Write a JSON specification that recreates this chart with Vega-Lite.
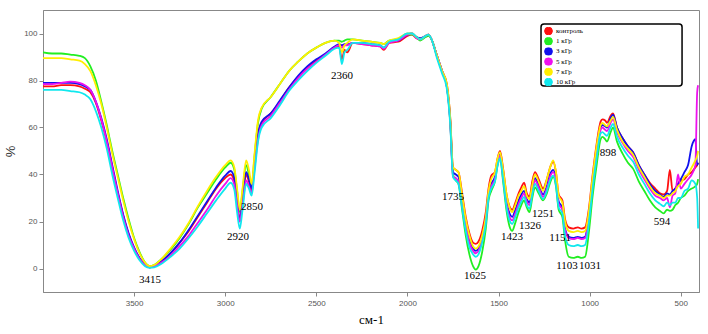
{
  "$schema": "https://vega.github.io/schema/vega-lite/v6.json",
  "width": 656,
  "height": 282,
  "autosize": {"type": "none"},
  "padding": {"left": 43, "top": 10, "right": 9, "bottom": 42},
  "background": "white",
  "config": {
    "view": {"stroke": "#888", "strokeWidth": 1},
    "axis": {"grid": false, "domainColor": "#888", "tickColor": "#888", "tickSize": 4, "labelFont": "Liberation Sans", "labelFontSize": 8, "labelColor": "#555", "titleFontWeight": "normal"},
    "legend": {"symbolStrokeColor": "#000", "symbolStrokeWidth": 1}
  },
  "layer": [
    {
      "data": {"values": [
{"w":4000,"s":"контроль","v":77.5},{"w":4000,"s":"1 кГр","v":92},{"w":4000,"s":"3 кГр","v":79},{"w":4000,"s":"5 кГр","v":78.5},{"w":4000,"s":"7 кГр","v":89.5},{"w":4000,"s":"10 кГр","v":76},
{"w":3950,"s":"контроль","v":77.5},{"w":3950,"s":"1 кГр","v":91.5},{"w":3950,"s":"3 кГр","v":79},{"w":3950,"s":"5 кГр","v":78.5},{"w":3950,"s":"7 кГр","v":89.5},{"w":3950,"s":"10 кГр","v":76},
{"w":3900,"s":"контроль","v":78},{"w":3900,"s":"1 кГр","v":91.5},{"w":3900,"s":"3 кГр","v":79},{"w":3900,"s":"5 кГр","v":79},{"w":3900,"s":"7 кГр","v":89.5},{"w":3900,"s":"10 кГр","v":76},
{"w":3850,"s":"контроль","v":78},{"w":3850,"s":"1 кГр","v":91},{"w":3850,"s":"3 кГр","v":79},{"w":3850,"s":"5 кГр","v":79.5},{"w":3850,"s":"7 кГр","v":89},{"w":3850,"s":"10 кГр","v":75.5},
{"w":3800,"s":"контроль","v":77.5},{"w":3800,"s":"1 кГр","v":90.5},{"w":3800,"s":"3 кГр","v":78.5},{"w":3800,"s":"5 кГр","v":79},{"w":3800,"s":"7 кГр","v":88.5},{"w":3800,"s":"10 кГр","v":75},
{"w":3770,"s":"контроль","v":76.5},{"w":3770,"s":"1 кГр","v":89.5},{"w":3770,"s":"3 кГр","v":77.5},{"w":3770,"s":"5 кГр","v":78},{"w":3770,"s":"7 кГр","v":87},{"w":3770,"s":"10 кГр","v":74},
{"w":3740,"s":"контроль","v":75},{"w":3740,"s":"1 кГр","v":86},{"w":3740,"s":"3 кГр","v":76},{"w":3740,"s":"5 кГр","v":76},{"w":3740,"s":"7 кГр","v":84},{"w":3740,"s":"10 кГр","v":72},
{"w":3710,"s":"контроль","v":70.5},{"w":3710,"s":"1 кГр","v":80},{"w":3710,"s":"3 кГр","v":71},{"w":3710,"s":"5 кГр","v":71},{"w":3710,"s":"7 кГр","v":78},{"w":3710,"s":"10 кГр","v":67},
{"w":3680,"s":"контроль","v":63},{"w":3680,"s":"1 кГр","v":71},{"w":3680,"s":"3 кГр","v":64},{"w":3680,"s":"5 кГр","v":63.5},{"w":3680,"s":"7 кГр","v":70},{"w":3680,"s":"10 кГр","v":60},
{"w":3650,"s":"контроль","v":54},{"w":3650,"s":"1 кГр","v":61},{"w":3650,"s":"3 кГр","v":55},{"w":3650,"s":"5 кГр","v":54},{"w":3650,"s":"7 кГр","v":60},{"w":3650,"s":"10 кГр","v":51},
{"w":3620,"s":"контроль","v":43},{"w":3620,"s":"1 кГр","v":50},{"w":3620,"s":"3 кГр","v":44},{"w":3620,"s":"5 кГр","v":43},{"w":3620,"s":"7 кГр","v":49},{"w":3620,"s":"10 кГр","v":40},
{"w":3590,"s":"контроль","v":32},{"w":3590,"s":"1 кГр","v":40},{"w":3590,"s":"3 кГр","v":33},{"w":3590,"s":"5 кГр","v":32},{"w":3590,"s":"7 кГр","v":39},{"w":3590,"s":"10 кГр","v":30},
{"w":3560,"s":"контроль","v":22.5},{"w":3560,"s":"1 кГр","v":30},{"w":3560,"s":"3 кГр","v":23},{"w":3560,"s":"5 кГр","v":22},{"w":3560,"s":"7 кГр","v":29},{"w":3560,"s":"10 кГр","v":20.5},
{"w":3530,"s":"контроль","v":14.5},{"w":3530,"s":"1 кГр","v":21},{"w":3530,"s":"3 кГр","v":15},{"w":3530,"s":"5 кГр","v":14},{"w":3530,"s":"7 кГр","v":20},{"w":3530,"s":"10 кГр","v":13},
{"w":3500,"s":"контроль","v":8.5},{"w":3500,"s":"1 кГр","v":13},{"w":3500,"s":"3 кГр","v":9},{"w":3500,"s":"5 кГр","v":8.5},{"w":3500,"s":"7 кГр","v":12.5},{"w":3500,"s":"10 кГр","v":7.5},
{"w":3470,"s":"контроль","v":4},{"w":3470,"s":"1 кГр","v":7},{"w":3470,"s":"3 кГр","v":4.5},{"w":3470,"s":"5 кГр","v":4},{"w":3470,"s":"7 кГр","v":6.5},{"w":3470,"s":"10 кГр","v":3.5},
{"w":3440,"s":"контроль","v":1.5},{"w":3440,"s":"1 кГр","v":2.5},{"w":3440,"s":"3 кГр","v":1.5},{"w":3440,"s":"5 кГр","v":1.5},{"w":3440,"s":"7 кГр","v":2.5},{"w":3440,"s":"10 кГр","v":1},
{"w":3415,"s":"контроль","v":0.5},{"w":3415,"s":"1 кГр","v":1},{"w":3415,"s":"3 кГр","v":0.5},{"w":3415,"s":"5 кГр","v":0.5},{"w":3415,"s":"7 кГр","v":1},{"w":3415,"s":"10 кГр","v":0.3},
{"w":3390,"s":"контроль","v":1},{"w":3390,"s":"1 кГр","v":1.5},{"w":3390,"s":"3 кГр","v":1},{"w":3390,"s":"5 кГр","v":1},{"w":3390,"s":"7 кГр","v":1.5},{"w":3390,"s":"10 кГр","v":0.5},
{"w":3350,"s":"контроль","v":3},{"w":3350,"s":"1 кГр","v":4},{"w":3350,"s":"3 кГр","v":3},{"w":3350,"s":"5 кГр","v":2.5},{"w":3350,"s":"7 кГр","v":4},{"w":3350,"s":"10 кГр","v":2},
{"w":3300,"s":"контроль","v":6.5},{"w":3300,"s":"1 кГр","v":8},{"w":3300,"s":"3 кГр","v":6.5},{"w":3300,"s":"5 кГр","v":5.5},{"w":3300,"s":"7 кГр","v":8.5},{"w":3300,"s":"10 кГр","v":5},
{"w":3250,"s":"контроль","v":11},{"w":3250,"s":"1 кГр","v":13},{"w":3250,"s":"3 кГр","v":11},{"w":3250,"s":"5 кГр","v":9.5},{"w":3250,"s":"7 кГр","v":13.5},{"w":3250,"s":"10 кГр","v":8.5},
{"w":3200,"s":"контроль","v":16},{"w":3200,"s":"1 кГр","v":19},{"w":3200,"s":"3 кГр","v":16.5},{"w":3200,"s":"5 кГр","v":14},{"w":3200,"s":"7 кГр","v":19.5},{"w":3200,"s":"10 кГр","v":13},
{"w":3150,"s":"контроль","v":22},{"w":3150,"s":"1 кГр","v":26},{"w":3150,"s":"3 кГр","v":22.5},{"w":3150,"s":"5 кГр","v":19.5},{"w":3150,"s":"7 кГр","v":26.5},{"w":3150,"s":"10 кГр","v":18},
{"w":3100,"s":"контроль","v":28},{"w":3100,"s":"1 кГр","v":32},{"w":3100,"s":"3 кГр","v":28.5},{"w":3100,"s":"5 кГр","v":25},{"w":3100,"s":"7 кГр","v":33},{"w":3100,"s":"10 кГр","v":23.5},
{"w":3050,"s":"контроль","v":34},{"w":3050,"s":"1 кГр","v":38},{"w":3050,"s":"3 кГр","v":34.5},{"w":3050,"s":"5 кГр","v":31},{"w":3050,"s":"7 кГр","v":39},{"w":3050,"s":"10 кГр","v":29},
{"w":3000,"s":"контроль","v":38.5},{"w":3000,"s":"1 кГр","v":43},{"w":3000,"s":"3 кГр","v":39.5},{"w":3000,"s":"5 кГр","v":36},{"w":3000,"s":"7 кГр","v":44},{"w":3000,"s":"10 кГр","v":34},
{"w":2970,"s":"контроль","v":40},{"w":2970,"s":"1 кГр","v":45},{"w":2970,"s":"3 кГр","v":41.5},{"w":2970,"s":"5 кГр","v":38.5},{"w":2970,"s":"7 кГр","v":46},{"w":2970,"s":"10 кГр","v":36.5},
{"w":2950,"s":"контроль","v":37},{"w":2950,"s":"1 кГр","v":42},{"w":2950,"s":"3 кГр","v":38.5},{"w":2950,"s":"5 кГр","v":35.5},{"w":2950,"s":"7 кГр","v":43},{"w":2950,"s":"10 кГр","v":33.5},
{"w":2935,"s":"контроль","v":28},{"w":2935,"s":"1 кГр","v":33},{"w":2935,"s":"3 кГр","v":29},{"w":2935,"s":"5 кГр","v":27},{"w":2935,"s":"7 кГр","v":34},{"w":2935,"s":"10 кГр","v":24},
{"w":2920,"s":"контроль","v":21},{"w":2920,"s":"1 кГр","v":24},{"w":2920,"s":"3 кГр","v":20},{"w":2920,"s":"5 кГр","v":20},{"w":2920,"s":"7 кГр","v":25},{"w":2920,"s":"10 кГр","v":17},
{"w":2905,"s":"контроль","v":29},{"w":2905,"s":"1 кГр","v":33},{"w":2905,"s":"3 кГр","v":30},{"w":2905,"s":"5 кГр","v":27},{"w":2905,"s":"7 кГр","v":34},{"w":2905,"s":"10 кГр","v":25},
{"w":2885,"s":"контроль","v":40},{"w":2885,"s":"1 кГр","v":44},{"w":2885,"s":"3 кГр","v":41},{"w":2885,"s":"5 кГр","v":37.5},{"w":2885,"s":"7 кГр","v":46},{"w":2885,"s":"10 кГр","v":36},
{"w":2870,"s":"контроль","v":37},{"w":2870,"s":"1 кГр","v":40},{"w":2870,"s":"3 кГр","v":38},{"w":2870,"s":"5 кГр","v":35},{"w":2870,"s":"7 кГр","v":42},{"w":2870,"s":"10 кГр","v":34},
{"w":2855,"s":"контроль","v":33},{"w":2855,"s":"1 кГр","v":35},{"w":2855,"s":"3 кГр","v":34},{"w":2855,"s":"5 кГр","v":32},{"w":2855,"s":"7 кГр","v":36},{"w":2855,"s":"10 кГр","v":31},
{"w":2840,"s":"контроль","v":44},{"w":2840,"s":"1 кГр","v":47},{"w":2840,"s":"3 кГр","v":44},{"w":2840,"s":"5 кГр","v":42},{"w":2840,"s":"7 кГр","v":48},{"w":2840,"s":"10 кГр","v":40},
{"w":2820,"s":"контроль","v":57},{"w":2820,"s":"1 кГр","v":62},{"w":2820,"s":"3 кГр","v":57},{"w":2820,"s":"5 кГр","v":55},{"w":2820,"s":"7 кГр","v":63},{"w":2820,"s":"10 кГр","v":54},
{"w":2800,"s":"контроль","v":62},{"w":2800,"s":"1 кГр","v":68},{"w":2800,"s":"3 кГр","v":62.5},{"w":2800,"s":"5 кГр","v":61},{"w":2800,"s":"7 кГр","v":68.5},{"w":2800,"s":"10 кГр","v":60},
{"w":2750,"s":"контроль","v":66},{"w":2750,"s":"1 кГр","v":73},{"w":2750,"s":"3 кГр","v":66},{"w":2750,"s":"5 кГр","v":65},{"w":2750,"s":"7 кГр","v":73},{"w":2750,"s":"10 кГр","v":64},
{"w":2700,"s":"контроль","v":71},{"w":2700,"s":"1 кГр","v":78.5},{"w":2700,"s":"3 кГр","v":71.5},{"w":2700,"s":"5 кГр","v":70.5},{"w":2700,"s":"7 кГр","v":78.5},{"w":2700,"s":"10 кГр","v":69.5},
{"w":2650,"s":"контроль","v":77},{"w":2650,"s":"1 кГр","v":84},{"w":2650,"s":"3 кГр","v":77},{"w":2650,"s":"5 кГр","v":76},{"w":2650,"s":"7 кГр","v":84},{"w":2650,"s":"10 кГр","v":75.5},
{"w":2600,"s":"контроль","v":81.5},{"w":2600,"s":"1 кГр","v":88},{"w":2600,"s":"3 кГр","v":82},{"w":2600,"s":"5 кГр","v":81},{"w":2600,"s":"7 кГр","v":88},{"w":2600,"s":"10 кГр","v":80},
{"w":2550,"s":"контроль","v":85.5},{"w":2550,"s":"1 кГр","v":91.5},{"w":2550,"s":"3 кГр","v":86},{"w":2550,"s":"5 кГр","v":85},{"w":2550,"s":"7 кГр","v":91.5},{"w":2550,"s":"10 кГр","v":84},
{"w":2500,"s":"контроль","v":88.5},{"w":2500,"s":"1 кГр","v":94},{"w":2500,"s":"3 кГр","v":89},{"w":2500,"s":"5 кГр","v":88},{"w":2500,"s":"7 кГр","v":94},{"w":2500,"s":"10 кГр","v":87.5},
{"w":2450,"s":"контроль","v":91},{"w":2450,"s":"1 кГр","v":96},{"w":2450,"s":"3 кГр","v":91.5},{"w":2450,"s":"5 кГр","v":91},{"w":2450,"s":"7 кГр","v":96},{"w":2450,"s":"10 кГр","v":90.5},
{"w":2400,"s":"контроль","v":94},{"w":2400,"s":"1 кГр","v":97},{"w":2400,"s":"3 кГр","v":94.5},{"w":2400,"s":"5 кГр","v":94},{"w":2400,"s":"7 кГр","v":97},{"w":2400,"s":"10 кГр","v":93.5},
{"w":2375,"s":"контроль","v":94.5},{"w":2375,"s":"1 кГр","v":97},{"w":2375,"s":"3 кГр","v":95.5},{"w":2375,"s":"5 кГр","v":95},{"w":2375,"s":"7 кГр","v":96},{"w":2375,"s":"10 кГр","v":94},
{"w":2360,"s":"контроль","v":89},{"w":2360,"s":"1 кГр","v":96.5},{"w":2360,"s":"3 кГр","v":95},{"w":2360,"s":"5 кГр","v":94},{"w":2360,"s":"7 кГр","v":92},{"w":2360,"s":"10 кГр","v":87},
{"w":2345,"s":"контроль","v":93},{"w":2345,"s":"1 кГр","v":97},{"w":2345,"s":"3 кГр","v":95.5},{"w":2345,"s":"5 кГр","v":95},{"w":2345,"s":"7 кГр","v":95},{"w":2345,"s":"10 кГр","v":92},
{"w":2330,"s":"контроль","v":92},{"w":2330,"s":"1 кГр","v":97.5},{"w":2330,"s":"3 кГр","v":95.5},{"w":2330,"s":"5 кГр","v":95},{"w":2330,"s":"7 кГр","v":96},{"w":2330,"s":"10 кГр","v":93},
{"w":2300,"s":"контроль","v":96},{"w":2300,"s":"1 кГр","v":97.5},{"w":2300,"s":"3 кГр","v":96},{"w":2300,"s":"5 кГр","v":96},{"w":2300,"s":"7 кГр","v":97.5},{"w":2300,"s":"10 кГр","v":96},
{"w":2250,"s":"контроль","v":95.5},{"w":2250,"s":"1 кГр","v":97},{"w":2250,"s":"3 кГр","v":96},{"w":2250,"s":"5 кГр","v":95.5},{"w":2250,"s":"7 кГр","v":97},{"w":2250,"s":"10 кГр","v":96},
{"w":2200,"s":"контроль","v":95},{"w":2200,"s":"1 кГр","v":96.5},{"w":2200,"s":"3 кГр","v":95.5},{"w":2200,"s":"5 кГр","v":95},{"w":2200,"s":"7 кГр","v":96.5},{"w":2200,"s":"10 кГр","v":95.5},
{"w":2150,"s":"контроль","v":94.5},{"w":2150,"s":"1 кГр","v":96},{"w":2150,"s":"3 кГр","v":95},{"w":2150,"s":"5 кГр","v":94.5},{"w":2150,"s":"7 кГр","v":96},{"w":2150,"s":"10 кГр","v":95},
{"w":2130,"s":"контроль","v":93},{"w":2130,"s":"1 кГр","v":95.5},{"w":2130,"s":"3 кГр","v":94},{"w":2130,"s":"5 кГр","v":93.5},{"w":2130,"s":"7 кГр","v":95.5},{"w":2130,"s":"10 кГр","v":94},
{"w":2100,"s":"контроль","v":96},{"w":2100,"s":"1 кГр","v":97},{"w":2100,"s":"3 кГр","v":96.5},{"w":2100,"s":"5 кГр","v":96},{"w":2100,"s":"7 кГр","v":97},{"w":2100,"s":"10 кГр","v":96.5},
{"w":2050,"s":"контроль","v":96.5},{"w":2050,"s":"1 кГр","v":97.5},{"w":2050,"s":"3 кГр","v":97},{"w":2050,"s":"5 кГр","v":97},{"w":2050,"s":"7 кГр","v":98},{"w":2050,"s":"10 кГр","v":97.5},
{"w":2000,"s":"контроль","v":99},{"w":2000,"s":"1 кГр","v":99.5},{"w":2000,"s":"3 кГр","v":99.5},{"w":2000,"s":"5 кГр","v":99.5},{"w":2000,"s":"7 кГр","v":100},{"w":2000,"s":"10 кГр","v":100},
{"w":1975,"s":"контроль","v":99.5},{"w":1975,"s":"1 кГр","v":99.5},{"w":1975,"s":"3 кГр","v":100},{"w":1975,"s":"5 кГр","v":100},{"w":1975,"s":"7 кГр","v":100},{"w":1975,"s":"10 кГр","v":100},
{"w":1950,"s":"контроль","v":98},{"w":1950,"s":"1 кГр","v":98.5},{"w":1950,"s":"3 кГр","v":98.5},{"w":1950,"s":"5 кГр","v":98},{"w":1950,"s":"7 кГр","v":98.5},{"w":1950,"s":"10 кГр","v":98.5},
{"w":1930,"s":"контроль","v":97.5},{"w":1930,"s":"1 кГр","v":97},{"w":1930,"s":"3 кГр","v":98},{"w":1930,"s":"5 кГр","v":97.5},{"w":1930,"s":"7 кГр","v":97.5},{"w":1930,"s":"10 кГр","v":97.5},
{"w":1900,"s":"контроль","v":99},{"w":1900,"s":"1 кГр","v":98.5},{"w":1900,"s":"3 кГр","v":99},{"w":1900,"s":"5 кГр","v":99},{"w":1900,"s":"7 кГр","v":99},{"w":1900,"s":"10 кГр","v":99},
{"w":1885,"s":"контроль","v":99.5},{"w":1885,"s":"1 кГр","v":99},{"w":1885,"s":"3 кГр","v":99.5},{"w":1885,"s":"5 кГр","v":99.5},{"w":1885,"s":"7 кГр","v":99.5},{"w":1885,"s":"10 кГр","v":99.5},
{"w":1865,"s":"контроль","v":97},{"w":1865,"s":"1 кГр","v":97},{"w":1865,"s":"3 кГр","v":97},{"w":1865,"s":"5 кГр","v":97},{"w":1865,"s":"7 кГр","v":97},{"w":1865,"s":"10 кГр","v":97},
{"w":1840,"s":"контроль","v":91},{"w":1840,"s":"1 кГр","v":91},{"w":1840,"s":"3 кГр","v":91},{"w":1840,"s":"5 кГр","v":91},{"w":1840,"s":"7 кГр","v":91},{"w":1840,"s":"10 кГр","v":90},
{"w":1810,"s":"контроль","v":84},{"w":1810,"s":"1 кГр","v":84},{"w":1810,"s":"3 кГр","v":84},{"w":1810,"s":"5 кГр","v":84},{"w":1810,"s":"7 кГр","v":84},{"w":1810,"s":"10 кГр","v":83},
{"w":1785,"s":"контроль","v":79},{"w":1785,"s":"1 кГр","v":78},{"w":1785,"s":"3 кГр","v":78},{"w":1785,"s":"5 кГр","v":78},{"w":1785,"s":"7 кГр","v":79},{"w":1785,"s":"10 кГр","v":77},
{"w":1765,"s":"контроль","v":64},{"w":1765,"s":"1 кГр","v":62},{"w":1765,"s":"3 кГр","v":63},{"w":1765,"s":"5 кГр","v":62},{"w":1765,"s":"7 кГр","v":64},{"w":1765,"s":"10 кГр","v":61},
{"w":1750,"s":"контроль","v":43},{"w":1750,"s":"1 кГр","v":40},{"w":1750,"s":"3 кГр","v":41},{"w":1750,"s":"5 кГр","v":39},{"w":1750,"s":"7 кГр","v":43},{"w":1750,"s":"10 кГр","v":39},
{"w":1735,"s":"контроль","v":42},{"w":1735,"s":"1 кГр","v":37.5},{"w":1735,"s":"3 кГр","v":40},{"w":1735,"s":"5 кГр","v":38.5},{"w":1735,"s":"7 кГр","v":42},{"w":1735,"s":"10 кГр","v":37.5},
{"w":1720,"s":"контроль","v":41},{"w":1720,"s":"1 кГр","v":36},{"w":1720,"s":"3 кГр","v":39},{"w":1720,"s":"5 кГр","v":37},{"w":1720,"s":"7 кГр","v":41},{"w":1720,"s":"10 кГр","v":36},
{"w":1700,"s":"контроль","v":32},{"w":1700,"s":"1 кГр","v":25},{"w":1700,"s":"3 кГр","v":29},{"w":1700,"s":"5 кГр","v":27},{"w":1700,"s":"7 кГр","v":31},{"w":1700,"s":"10 кГр","v":26},
{"w":1680,"s":"контроль","v":22},{"w":1680,"s":"1 кГр","v":14},{"w":1680,"s":"3 кГр","v":19},{"w":1680,"s":"5 кГр","v":18},{"w":1680,"s":"7 кГр","v":21},{"w":1680,"s":"10 кГр","v":16},
{"w":1660,"s":"контроль","v":15},{"w":1660,"s":"1 кГр","v":6},{"w":1660,"s":"3 кГр","v":12},{"w":1660,"s":"5 кГр","v":11},{"w":1660,"s":"7 кГр","v":14},{"w":1660,"s":"10 кГр","v":9},
{"w":1640,"s":"контроль","v":11},{"w":1640,"s":"1 кГр","v":1},{"w":1640,"s":"3 кГр","v":8.5},{"w":1640,"s":"5 кГр","v":7.5},{"w":1640,"s":"7 кГр","v":9.5},{"w":1640,"s":"10 кГр","v":6},
{"w":1625,"s":"контроль","v":10.5},{"w":1625,"s":"1 кГр","v":-0.5},{"w":1625,"s":"3 кГр","v":7.5},{"w":1625,"s":"5 кГр","v":6.5},{"w":1625,"s":"7 кГр","v":8.5},{"w":1625,"s":"10 кГр","v":5},
{"w":1610,"s":"контроль","v":11.5},{"w":1610,"s":"1 кГр","v":1},{"w":1610,"s":"3 кГр","v":8.5},{"w":1610,"s":"5 кГр","v":7.5},{"w":1610,"s":"7 кГр","v":9.5},{"w":1610,"s":"10 кГр","v":6},
{"w":1590,"s":"контроль","v":16},{"w":1590,"s":"1 кГр","v":7},{"w":1590,"s":"3 кГр","v":13},{"w":1590,"s":"5 кГр","v":12},{"w":1590,"s":"7 кГр","v":14},{"w":1590,"s":"10 кГр","v":11},
{"w":1570,"s":"контроль","v":24},{"w":1570,"s":"1 кГр","v":17},{"w":1570,"s":"3 кГр","v":21},{"w":1570,"s":"5 кГр","v":20},{"w":1570,"s":"7 кГр","v":22},{"w":1570,"s":"10 кГр","v":19},
{"w":1555,"s":"контроль","v":34},{"w":1555,"s":"1 кГр","v":29},{"w":1555,"s":"3 кГр","v":32},{"w":1555,"s":"5 кГр","v":31},{"w":1555,"s":"7 кГр","v":33},{"w":1555,"s":"10 кГр","v":30},
{"w":1540,"s":"контроль","v":39.5},{"w":1540,"s":"1 кГр","v":33},{"w":1540,"s":"3 кГр","v":36},{"w":1540,"s":"5 кГр","v":35},{"w":1540,"s":"7 кГр","v":38},{"w":1540,"s":"10 кГр","v":34},
{"w":1520,"s":"контроль","v":41},{"w":1520,"s":"1 кГр","v":37},{"w":1520,"s":"3 кГр","v":39},{"w":1520,"s":"5 кГр","v":38},{"w":1520,"s":"7 кГр","v":41},{"w":1520,"s":"10 кГр","v":37},
{"w":1505,"s":"контроль","v":47},{"w":1505,"s":"1 кГр","v":44},{"w":1505,"s":"3 кГр","v":46},{"w":1505,"s":"5 кГр","v":45},{"w":1505,"s":"7 кГр","v":47},{"w":1505,"s":"10 кГр","v":44},
{"w":1492,"s":"контроль","v":50},{"w":1492,"s":"1 кГр","v":47},{"w":1492,"s":"3 кГр","v":49},{"w":1492,"s":"5 кГр","v":48},{"w":1492,"s":"7 кГр","v":49.5},{"w":1492,"s":"10 кГр","v":47},
{"w":1475,"s":"контроль","v":42.5},{"w":1475,"s":"1 кГр","v":37},{"w":1475,"s":"3 кГр","v":40},{"w":1475,"s":"5 кГр","v":39},{"w":1475,"s":"7 кГр","v":42},{"w":1475,"s":"10 кГр","v":38},
{"w":1455,"s":"контроль","v":31},{"w":1455,"s":"1 кГр","v":24},{"w":1455,"s":"3 кГр","v":28},{"w":1455,"s":"5 кГр","v":27},{"w":1455,"s":"7 кГр","v":31},{"w":1455,"s":"10 кГр","v":25.5},
{"w":1440,"s":"контроль","v":26.5},{"w":1440,"s":"1 кГр","v":18},{"w":1440,"s":"3 кГр","v":23.5},{"w":1440,"s":"5 кГр","v":22},{"w":1440,"s":"7 кГр","v":26},{"w":1440,"s":"10 кГр","v":20.5},
{"w":1425,"s":"контроль","v":25},{"w":1425,"s":"1 кГр","v":16},{"w":1425,"s":"3 кГр","v":22},{"w":1425,"s":"5 кГр","v":20.5},{"w":1425,"s":"7 кГр","v":24},{"w":1425,"s":"10 кГр","v":19},
{"w":1410,"s":"контроль","v":27.5},{"w":1410,"s":"1 кГр","v":19},{"w":1410,"s":"3 кГр","v":24.5},{"w":1410,"s":"5 кГр","v":23},{"w":1410,"s":"7 кГр","v":26.5},{"w":1410,"s":"10 кГр","v":21.5},
{"w":1390,"s":"контроль","v":32},{"w":1390,"s":"1 кГр","v":24},{"w":1390,"s":"3 кГр","v":29},{"w":1390,"s":"5 кГр","v":27.5},{"w":1390,"s":"7 кГр","v":31},{"w":1390,"s":"10 кГр","v":26},
{"w":1375,"s":"контроль","v":34.5},{"w":1375,"s":"1 кГр","v":27},{"w":1375,"s":"3 кГр","v":31.5},{"w":1375,"s":"5 кГр","v":30},{"w":1375,"s":"7 кГр","v":33},{"w":1375,"s":"10 кГр","v":28.5},
{"w":1360,"s":"контроль","v":36.5},{"w":1360,"s":"1 кГр","v":29},{"w":1360,"s":"3 кГр","v":33},{"w":1360,"s":"5 кГр","v":32},{"w":1360,"s":"7 кГр","v":35},{"w":1360,"s":"10 кГр","v":30.5},
{"w":1345,"s":"контроль","v":32},{"w":1345,"s":"1 кГр","v":26},{"w":1345,"s":"3 кГр","v":29.5},{"w":1345,"s":"5 кГр","v":28.5},{"w":1345,"s":"7 кГр","v":31},{"w":1345,"s":"10 кГр","v":27},
{"w":1330,"s":"контроль","v":30.5},{"w":1330,"s":"1 кГр","v":24},{"w":1330,"s":"3 кГр","v":28},{"w":1330,"s":"5 кГр","v":27},{"w":1330,"s":"7 кГр","v":29.5},{"w":1330,"s":"10 кГр","v":25.5},
{"w":1315,"s":"контроль","v":37},{"w":1315,"s":"1 кГр","v":30},{"w":1315,"s":"3 кГр","v":34},{"w":1315,"s":"5 кГр","v":33},{"w":1315,"s":"7 кГр","v":35.5},{"w":1315,"s":"10 кГр","v":31.5},
{"w":1300,"s":"контроль","v":41},{"w":1300,"s":"1 кГр","v":34.5},{"w":1300,"s":"3 кГр","v":38.5},{"w":1300,"s":"5 кГр","v":37.5},{"w":1300,"s":"7 кГр","v":40},{"w":1300,"s":"10 кГр","v":36},
{"w":1280,"s":"контроль","v":38},{"w":1280,"s":"1 кГр","v":32},{"w":1280,"s":"3 кГр","v":35.5},{"w":1280,"s":"5 кГр","v":34.5},{"w":1280,"s":"7 кГр","v":37},{"w":1280,"s":"10 кГр","v":33},
{"w":1256,"s":"контроль","v":34},{"w":1256,"s":"1 кГр","v":29},{"w":1256,"s":"3 кГр","v":31.5},{"w":1256,"s":"5 кГр","v":30.5},{"w":1256,"s":"7 кГр","v":33},{"w":1256,"s":"10 кГр","v":29.5},
{"w":1235,"s":"контроль","v":38},{"w":1235,"s":"1 кГр","v":32},{"w":1235,"s":"3 кГр","v":35},{"w":1235,"s":"5 кГр","v":34},{"w":1235,"s":"7 кГр","v":38},{"w":1235,"s":"10 кГр","v":33},
{"w":1215,"s":"контроль","v":43.5},{"w":1215,"s":"1 кГр","v":37},{"w":1215,"s":"3 кГр","v":40.5},{"w":1215,"s":"5 кГр","v":39.5},{"w":1215,"s":"7 кГр","v":43.5},{"w":1215,"s":"10 кГр","v":38},
{"w":1200,"s":"контроль","v":45.5},{"w":1200,"s":"1 кГр","v":39},{"w":1200,"s":"3 кГр","v":42},{"w":1200,"s":"5 кГр","v":41},{"w":1200,"s":"7 кГр","v":46},{"w":1200,"s":"10 кГр","v":39.5},
{"w":1185,"s":"контроль","v":41},{"w":1185,"s":"1 кГр","v":35},{"w":1185,"s":"3 кГр","v":38},{"w":1185,"s":"5 кГр","v":37},{"w":1185,"s":"7 кГр","v":41},{"w":1185,"s":"10 кГр","v":35.5},
{"w":1170,"s":"контроль","v":31.5},{"w":1170,"s":"1 кГр","v":25},{"w":1170,"s":"3 кГр","v":28.5},{"w":1170,"s":"5 кГр","v":27.5},{"w":1170,"s":"7 кГр","v":31},{"w":1170,"s":"10 кГр","v":26},
{"w":1150,"s":"контроль","v":29},{"w":1150,"s":"1 кГр","v":22},{"w":1150,"s":"3 кГр","v":26},{"w":1150,"s":"5 кГр","v":25},{"w":1150,"s":"7 кГр","v":28},{"w":1150,"s":"10 кГр","v":23.5},
{"w":1135,"s":"контроль","v":21},{"w":1135,"s":"1 кГр","v":12},{"w":1135,"s":"3 кГр","v":17},{"w":1135,"s":"5 кГр","v":16.5},{"w":1135,"s":"7 кГр","v":20},{"w":1135,"s":"10 кГр","v":14},
{"w":1115,"s":"контроль","v":17.5},{"w":1115,"s":"1 кГр","v":5},{"w":1115,"s":"3 кГр","v":13.5},{"w":1115,"s":"5 кГр","v":13},{"w":1115,"s":"7 кГр","v":16},{"w":1115,"s":"10 кГр","v":10},
{"w":1090,"s":"контроль","v":17},{"w":1090,"s":"1 кГр","v":4.5},{"w":1090,"s":"3 кГр","v":13},{"w":1090,"s":"5 кГр","v":12.5},{"w":1090,"s":"7 кГр","v":15.5},{"w":1090,"s":"10 кГр","v":9.5},
{"w":1065,"s":"контроль","v":17.5},{"w":1065,"s":"1 кГр","v":5},{"w":1065,"s":"3 кГр","v":13.5},{"w":1065,"s":"5 кГр","v":13},{"w":1065,"s":"7 кГр","v":16},{"w":1065,"s":"10 кГр","v":10},
{"w":1045,"s":"контроль","v":17},{"w":1045,"s":"1 кГр","v":4.5},{"w":1045,"s":"3 кГр","v":13},{"w":1045,"s":"5 кГр","v":12.5},{"w":1045,"s":"7 кГр","v":15.5},{"w":1045,"s":"10 кГр","v":9.5},
{"w":1025,"s":"контроль","v":17.5},{"w":1025,"s":"1 кГр","v":5},{"w":1025,"s":"3 кГр","v":13.5},{"w":1025,"s":"5 кГр","v":13},{"w":1025,"s":"7 кГр","v":16},{"w":1025,"s":"10 кГр","v":10},
{"w":1005,"s":"контроль","v":25},{"w":1005,"s":"1 кГр","v":15},{"w":1005,"s":"3 кГр","v":22},{"w":1005,"s":"5 кГр","v":21},{"w":1005,"s":"7 кГр","v":24},{"w":1005,"s":"10 кГр","v":19},
{"w":985,"s":"контроль","v":39},{"w":985,"s":"1 кГр","v":30},{"w":985,"s":"3 кГр","v":36},{"w":985,"s":"5 кГр","v":35},{"w":985,"s":"7 кГр","v":38},{"w":985,"s":"10 кГр","v":33},
{"w":960,"s":"контроль","v":54},{"w":960,"s":"1 кГр","v":45},{"w":960,"s":"3 кГр","v":51},{"w":960,"s":"5 кГр","v":50},{"w":960,"s":"7 кГр","v":53},{"w":960,"s":"10 кГр","v":48},
{"w":940,"s":"контроль","v":62.5},{"w":940,"s":"1 кГр","v":55},{"w":940,"s":"3 кГр","v":60},{"w":940,"s":"5 кГр","v":59},{"w":940,"s":"7 кГр","v":61},{"w":940,"s":"10 кГр","v":57.5},
{"w":930,"s":"контроль","v":63.5},{"w":930,"s":"1 кГр","v":56},{"w":930,"s":"3 кГр","v":61},{"w":930,"s":"5 кГр","v":60},{"w":930,"s":"7 кГр","v":62},{"w":930,"s":"10 кГр","v":58},
{"w":915,"s":"контроль","v":63},{"w":915,"s":"1 кГр","v":55},{"w":915,"s":"3 кГр","v":60.5},{"w":915,"s":"5 кГр","v":59},{"w":915,"s":"7 кГр","v":61},{"w":915,"s":"10 кГр","v":57},
{"w":905,"s":"контроль","v":62},{"w":905,"s":"1 кГр","v":54},{"w":905,"s":"3 кГр","v":60},{"w":905,"s":"5 кГр","v":58.5},{"w":905,"s":"7 кГр","v":60.5},{"w":905,"s":"10 кГр","v":56.5},
{"w":885,"s":"контроль","v":65},{"w":885,"s":"1 кГр","v":58},{"w":885,"s":"3 кГр","v":64},{"w":885,"s":"5 кГр","v":62},{"w":885,"s":"7 кГр","v":63},{"w":885,"s":"10 кГр","v":60},
{"w":872,"s":"контроль","v":66},{"w":872,"s":"1 кГр","v":60},{"w":872,"s":"3 кГр","v":65.5},{"w":872,"s":"5 кГр","v":63.5},{"w":872,"s":"7 кГр","v":64.5},{"w":872,"s":"10 кГр","v":61.5},
{"w":850,"s":"контроль","v":60},{"w":850,"s":"1 кГр","v":54},{"w":850,"s":"3 кГр","v":60},{"w":850,"s":"5 кГр","v":58},{"w":850,"s":"7 кГр","v":59},{"w":850,"s":"10 кГр","v":56},
{"w":820,"s":"контроль","v":55.5},{"w":820,"s":"1 кГр","v":49},{"w":820,"s":"3 кГр","v":55.5},{"w":820,"s":"5 кГр","v":53.5},{"w":820,"s":"7 кГр","v":54},{"w":820,"s":"10 кГр","v":51.5},
{"w":790,"s":"контроль","v":52},{"w":790,"s":"1 кГр","v":45},{"w":790,"s":"3 кГр","v":52},{"w":790,"s":"5 кГр","v":50},{"w":790,"s":"7 кГр","v":51},{"w":790,"s":"10 кГр","v":48},
{"w":762,"s":"контроль","v":49.5},{"w":762,"s":"1 кГр","v":42.5},{"w":762,"s":"3 кГр","v":49.5},{"w":762,"s":"5 кГр","v":47.5},{"w":762,"s":"7 кГр","v":48.5},{"w":762,"s":"10 кГр","v":45.5},
{"w":730,"s":"контроль","v":44},{"w":730,"s":"1 кГр","v":37},{"w":730,"s":"3 кГр","v":44},{"w":730,"s":"5 кГр","v":42},{"w":730,"s":"7 кГр","v":43},{"w":730,"s":"10 кГр","v":40},
{"w":700,"s":"контроль","v":40},{"w":700,"s":"1 кГр","v":33},{"w":700,"s":"3 кГр","v":40},{"w":700,"s":"5 кГр","v":38},{"w":700,"s":"7 кГр","v":39},{"w":700,"s":"10 кГр","v":36},
{"w":670,"s":"контроль","v":36.5},{"w":670,"s":"1 кГр","v":29},{"w":670,"s":"3 кГр","v":36},{"w":670,"s":"5 кГр","v":34},{"w":670,"s":"7 кГр","v":35},{"w":670,"s":"10 кГр","v":32},
{"w":640,"s":"контроль","v":34},{"w":640,"s":"1 кГр","v":26},{"w":640,"s":"3 кГр","v":33},{"w":640,"s":"5 кГр","v":31},{"w":640,"s":"7 кГр","v":32},{"w":640,"s":"10 кГр","v":29},
{"w":614,"s":"контроль","v":32},{"w":614,"s":"1 кГр","v":24.5},{"w":614,"s":"3 кГр","v":31.5},{"w":614,"s":"5 кГр","v":30},{"w":614,"s":"7 кГр","v":31},{"w":614,"s":"10 кГр","v":27.5},
{"w":594,"s":"контроль","v":31.5},{"w":594,"s":"1 кГр","v":23.5},{"w":594,"s":"3 кГр","v":30.5},{"w":594,"s":"5 кГр","v":29},{"w":594,"s":"7 кГр","v":30},{"w":594,"s":"10 кГр","v":26.5},
{"w":575,"s":"контроль","v":33},{"w":575,"s":"1 кГр","v":25},{"w":575,"s":"3 кГр","v":32},{"w":575,"s":"5 кГр","v":30},{"w":575,"s":"7 кГр","v":31},{"w":575,"s":"10 кГр","v":28},
{"w":560,"s":"контроль","v":42},{"w":560,"s":"1 кГр","v":24.5},{"w":560,"s":"3 кГр","v":31.5},{"w":560,"s":"5 кГр","v":26},{"w":560,"s":"7 кГр","v":31},{"w":560,"s":"10 кГр","v":27},
{"w":545,"s":"контроль","v":33},{"w":545,"s":"1 кГр","v":25},{"w":545,"s":"3 кГр","v":33},{"w":545,"s":"5 кГр","v":31},{"w":545,"s":"7 кГр","v":32},{"w":545,"s":"10 кГр","v":28},
{"w":530,"s":"контроль","v":34},{"w":530,"s":"1 кГр","v":27},{"w":530,"s":"3 кГр","v":34},{"w":530,"s":"5 кГр","v":32},{"w":530,"s":"7 кГр","v":33},{"w":530,"s":"10 кГр","v":28},
{"w":515,"s":"контроль","v":36},{"w":515,"s":"1 кГр","v":28},{"w":515,"s":"3 кГр","v":36},{"w":515,"s":"5 кГр","v":40},{"w":515,"s":"7 кГр","v":35},{"w":515,"s":"10 кГр","v":30},
{"w":500,"s":"контроль","v":37.5},{"w":500,"s":"1 кГр","v":30},{"w":500,"s":"3 кГр","v":38},{"w":500,"s":"5 кГр","v":34},{"w":500,"s":"7 кГр","v":36},{"w":500,"s":"10 кГр","v":30},
{"w":480,"s":"контроль","v":38},{"w":480,"s":"1 кГр","v":31},{"w":480,"s":"3 кГр","v":41},{"w":480,"s":"5 кГр","v":36},{"w":480,"s":"7 кГр","v":39},{"w":480,"s":"10 кГр","v":33},
{"w":460,"s":"контроль","v":40},{"w":460,"s":"1 кГр","v":33},{"w":460,"s":"3 кГр","v":44},{"w":460,"s":"5 кГр","v":38},{"w":460,"s":"7 кГр","v":40},{"w":460,"s":"10 кГр","v":34},
{"w":440,"s":"контроль","v":41},{"w":440,"s":"1 кГр","v":34},{"w":440,"s":"3 кГр","v":52},{"w":440,"s":"5 кГр","v":40},{"w":440,"s":"7 кГр","v":43},{"w":440,"s":"10 кГр","v":37.5},
{"w":420,"s":"контроль","v":43},{"w":420,"s":"1 кГр","v":35},{"w":420,"s":"3 кГр","v":55},{"w":420,"s":"5 кГр","v":44},{"w":420,"s":"7 кГр","v":46},{"w":420,"s":"10 кГр","v":36},
{"w":410,"s":"контроль","v":44},{"w":410,"s":"1 кГр","v":36},{"w":410,"s":"3 кГр","v":44},{"w":410,"s":"5 кГр","v":75},{"w":410,"s":"7 кГр","v":48},{"w":410,"s":"10 кГр","v":30},
{"w":405,"s":"контроль","v":45},{"w":405,"s":"1 кГр","v":38},{"w":405,"s":"3 кГр","v":45},{"w":405,"s":"5 кГр","v":78},{"w":405,"s":"7 кГр","v":50},{"w":405,"s":"10 кГр","v":17}
      ]},
      "mark": {"type": "line", "strokeWidth": 1.8, "interpolate": "monotone"},
      "encoding": {
        "x": {"field": "w", "type": "quantitative", "scale": {"domain": [400, 4000], "reverse": true, "nice": false}, "axis": {"values": [500, 1000, 1500, 2000, 2500, 3000, 3500], "format": "d", "title": "см-1", "titleFont": "Liberation Serif", "titleFontSize": 13, "titleColor": "#000", "titlePadding": 6, "labelPadding": 3}},
        "y": {"field": "v", "type": "quantitative", "scale": {"domain": [-10, 110], "nice": false}, "axis": {"values": [0, 20, 40, 60, 80, 100], "format": "d", "title": "%", "titleFont": "Liberation Sans", "titleFontSize": 13, "titleColor": "#333", "titlePadding": 6, "labelPadding": 2}},
        "color": {"field": "s", "type": "nominal", "sort": ["контроль", "1 кГр", "3 кГр", "5 кГр", "7 кГр", "10 кГр"],
          "scale": {"domain": ["контроль", "1 кГр", "3 кГр", "5 кГр", "7 кГр", "10 кГр"], "range": ["#ff1010", "#22ee22", "#1010ee", "#ee10ee", "#ffee00", "#10e8ee"]},
          "legend": {"title": null, "orient": "none", "legendX": 500, "legendY": 16, "symbolType": "circle", "symbolSize": 60, "symbolStrokeColor": "#000", "symbolStrokeWidth": 1, "clipHeight": 8, "labelFont": "Liberation Serif", "labelFontSize": 7, "labelColor": "#000", "rowPadding": 2.2, "padding": 1, "labelOffset": 3,
            "encode": {"symbols": {"update": {"fill": {"scale": "color", "field": "value"}, "stroke": {"value": "#000"}, "strokeWidth": {"value": 1}, "opacity": {"value": 1}}}}}}
      }
    },
    {
      "data": {"values": [{}]},
      "mark": {"type": "rect", "fill": "white", "fillOpacity": 0, "stroke": "#000", "strokeWidth": 1.5, "cornerRadius": 3},
      "encoding": {
        "x": {"datum": 1267, "type": "quantitative"},
        "x2": {"datum": 493},
        "y": {"datum": 104, "type": "quantitative"},
        "y2": {"datum": 77.7}
      }
    },
    {
      "data": {"values": [
        {"w": 3413, "v": -4.7, "t": "3415"},
        {"w": 2930, "v": 13.2, "t": "2920"},
        {"w": 2853, "v": 26, "t": "2850"},
        {"w": 2359, "v": 82, "t": "2360"},
        {"w": 1750, "v": 30.3, "t": "1735"},
        {"w": 1629, "v": -3, "t": "1625"},
        {"w": 1426, "v": 13.2, "t": "1423"},
        {"w": 1327, "v": 18, "t": "1326"},
        {"w": 1256, "v": 23, "t": "1251"},
        {"w": 1162, "v": 12.8, "t": "1151"},
        {"w": 1124, "v": 0.9, "t": "1103"},
        {"w": 998, "v": 0.9, "t": "1031"},
        {"w": 899, "v": 49, "t": "898"},
        {"w": 603, "v": 19.7, "t": "594"}
      ]},
      "mark": {"type": "text", "font": "Liberation Serif", "fontSize": 11, "color": "#000", "align": "center", "baseline": "middle"},
      "encoding": {
        "x": {"field": "w", "type": "quantitative"},
        "y": {"field": "v", "type": "quantitative"},
        "text": {"field": "t"}
      }
    }
  ]
}
